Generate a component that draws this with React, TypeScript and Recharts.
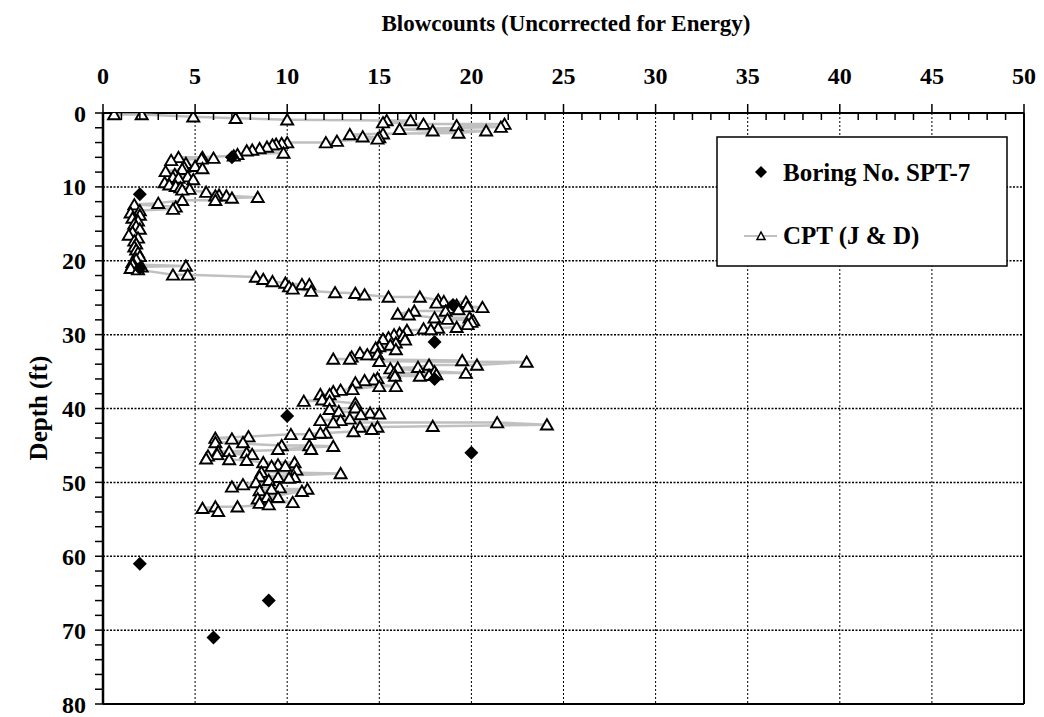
import React from "react";
import { ScatterChart, Scatter, XAxis, YAxis, ReferenceLine } from "recharts";

// axis ticks
const blowTicks = [
  0, 1, 2, 3, 4, 5, 6, 7, 8, 9, 10, 11, 12, 13, 14, 15, 16, 17, 18, 19, 20, 21, 22, 23, 24, 25,
  26, 27, 28, 29, 30, 31, 32, 33, 34, 35, 36, 37, 38, 39, 40, 41, 42, 43, 44, 45, 46, 47, 48, 49, 50,
];
const depthTicks = [
  0, 2, 4, 6, 8, 10, 12, 14, 16, 18, 20, 22, 24, 26, 28, 30, 32, 34, 36, 38, 40,
  42, 44, 46, 48, 50, 52, 54, 56, 58, 60, 62, 64, 66, 68, 70, 72, 74, 76, 78, 80,
];
const blowGrid = [5, 10, 15, 20, 25, 30, 35, 40, 45];
const depthGrid = [10, 20, 30, 40, 50, 60, 70];

// Boring No. SPT-7
const sptDepth = [6, 11, 21, 26, 31, 36, 41, 46, 61, 66, 71];
const sptBlows = [7, 2, 2, 19, 18, 18, 10, 20, 2, 9, 6];

// CPT (J & D), ordered by depth
const cptDepth = [
  0.2, 0.2, 0.5, 0.7, 0.9, 1.0, 1.0, 1.3, 1.5, 1.5, 1.7, 1.9, 2.2, 2.4, 2.4, 2.7, 2.8, 2.9, 3.2, 3.3,
  3.5, 3.8, 4.0, 4.0, 4.1, 4.2, 4.3, 4.6, 4.8, 5.0, 5.1, 5.4, 5.6, 5.8, 6.0, 6.0, 6.1, 6.2, 6.4, 6.8,
  7.2, 7.3, 7.5, 7.6, 7.9, 8.3, 8.6, 8.7, 8.8, 9.0, 9.4, 9.7, 9.9, 10.1, 10.3, 10.4, 10.7, 11.1, 11.2, 11.2,
  11.4, 11.5, 11.8, 11.8, 12.2, 12.4, 12.7, 13.0, 13.2, 13.5, 13.8, 14.2, 14.6, 15.0, 15.3, 15.7, 16.1, 16.5, 16.9, 17.3,
  17.7, 18.1, 18.5, 18.9, 19.4, 19.8, 20.2, 20.5, 20.7, 20.8, 21.0, 21.2, 21.9, 21.9, 22.2, 22.5, 22.8, 23.0, 23.2, 23.2,
  23.5, 23.8, 24.1, 24.3, 24.4, 24.6, 24.9, 24.9, 25.3, 25.5, 25.6, 25.7, 26.0, 26.2, 26.3, 26.4, 26.6, 26.8, 26.8, 27.2,
  27.3, 27.7, 27.7, 27.9, 28.1, 28.3, 28.6, 29.0, 29.1, 29.2, 29.3, 29.4, 29.8, 30.0, 30.2, 30.4, 30.6, 30.7, 31.1, 31.4,
  31.6, 31.8, 32.0, 32.5, 32.7, 32.7, 33.0, 33.3, 33.3, 33.5, 33.6, 33.7, 34.1, 34.1, 34.4, 34.5, 34.6, 35.0, 35.2, 35.2,
  35.4, 35.5, 35.6, 35.6, 35.9, 36.1, 36.2, 36.5, 37.0, 37.0, 37.4, 37.5, 37.7, 38.1, 38.1, 38.8, 39.0, 39.0, 39.3, 39.9,
  40.1, 40.4, 40.6, 40.7, 40.8, 41.4, 41.6, 41.6, 41.9, 41.9, 42.2, 42.4, 42.5, 42.5, 42.8, 43.1, 43.3, 43.3, 43.5, 43.5,
  43.8, 44.0, 44.1, 44.6, 44.6, 45.0, 45.0, 45.1, 45.5, 45.5, 45.8, 45.8, 46.0, 46.2, 46.2, 46.4, 46.8, 46.9, 47.0, 47.3,
  47.3, 47.6, 47.8, 47.8, 48.3, 48.6, 48.8, 49.2, 49.3, 49.3, 49.4, 49.7, 50.0, 50.3, 50.6, 50.7, 50.9, 50.9, 51.1, 51.2,
  52.0, 52.0, 52.2, 52.7, 52.8, 53.0, 53.3, 53.3, 53.5, 53.9,
];
const cptBlows = [
  0.6, 2.1, 4.9, 7.2, 10.0, 15.4, 16.7, 15.2, 17.4, 21.8, 19.2, 21.6, 16.1, 17.9, 20.8, 19.3, 15.2, 13.4, 14.1, 15.0,
  14.9, 12.7, 12.1, 10.0, 9.7, 9.4, 9.2, 8.9, 8.5, 8.1, 7.8, 9.8, 7.3, 7.1, 5.4, 4.1, 6.0, 5.35, 3.7, 4.5,
  5.0, 4.4, 5.4, 4.3, 3.4, 3.9, 4.6, 3.8, 4.1, 4.9, 3.35, 3.6, 3.95, 4.2, 4.7, 4.3, 5.6, 6.3, 6.1, 6.7,
  8.4, 7.0, 6.1, 4.3, 3.0, 1.7, 3.95, 3.8, 2.0, 1.5, 2.0, 1.6, 1.9, 1.7, 1.8, 2.0, 1.6, 1.4, 1.9, 1.7,
  1.8, 1.7, 1.8, 1.9, 2.0, 1.8, 1.6, 1.6, 4.5, 2.1, 1.5, 1.9, 3.8, 4.6, 8.3, 8.7, 9.2, 9.9, 10.8, 11.2,
  10.1, 10.3, 11.3, 12.6, 13.7, 14.2, 15.5, 17.2, 18.2, 18.5, 19.7, 18.1, 19.2, 19.8, 20.6, 18.9, 19.3, 18.6, 16.9, 16.0,
  16.6, 18.0, 19.9, 18.7, 20.1, 20.0, 19.8, 19.2, 18.2, 17.4, 17.8, 16.5, 16.1, 15.8, 16.3, 15.5, 15.2, 16.4, 15.9, 15.6,
  15.0, 14.8, 15.9, 13.95, 14.35, 14.9, 13.5, 13.4, 12.5, 19.5, 15.0, 23.0, 20.3, 17.7, 17.1, 16.0, 15.6, 18.0, 19.7, 15.8,
  18.1, 17.7, 17.2, 15.85, 14.9, 14.7, 14.2, 13.7, 15.9, 15.0, 13.55, 12.9, 12.5, 12.3, 11.8, 11.9, 10.9, 12.3, 13.7, 13.7,
  12.3, 12.8, 14.5, 15.0, 14.0, 13.4, 11.8, 12.9, 12.5, 21.4, 24.1, 17.9, 14.9, 13.95, 14.6, 13.6, 12.1, 11.8, 11.2, 10.2,
  7.9, 6.1, 7.0, 7.6, 6.1, 9.7, 11.2, 12.5, 9.5, 11.3, 6.85, 6.25, 7.8, 8.1, 6.2, 5.7, 5.6, 6.85, 7.8, 8.7,
  10.4, 9.5, 9.15, 9.9, 10.5, 8.6, 12.9, 8.5, 9.5, 10.4, 10.1, 9.0, 8.3, 7.6, 7.0, 9.6, 9.15, 11.1, 8.5, 10.8,
  8.9, 9.5, 8.4, 10.3, 8.5, 9.0, 7.3, 6.1, 5.4, 6.25,
];

const sptData = sptDepth.map((d, i) => ({ x: sptBlows[i], y: d }));
const cptData = cptDepth.map((d, i) => ({ x: cptBlows[i], y: d }));

const FONT = "'Liberation Serif', 'Times New Roman', serif";

function Triangle(props: any) {
  const { cx, cy } = props;
  if (cx == null || cy == null) return null;
  return (
    <polygon
      points={`${cx},${cy - 5.5} ${cx - 6},${cy + 4.8} ${cx + 6},${cy + 4.8}`}
      fill="#fff"
      stroke="#000"
      strokeWidth={1.9}
    />
  );
}

function Diamond(props: any) {
  const { cx, cy } = props;
  if (cx == null || cy == null) return null;
  return (
    <polygon
      points={`${cx},${cy - 7} ${cx + 7},${cy} ${cx},${cy + 7} ${cx - 7},${cy}`}
      fill="#000"
    />
  );
}

// top axis: labelled major ticks outside, minor ticks inside
function BlowTick(props: any) {
  const { x, y, payload } = props;
  const v = payload.value;
  if (v % 5 === 0) {
    return (
      <g>
        <line x1={x} x2={x} y1={y} y2={y - 9} stroke="#000" strokeWidth={1.5} />
        <text
          x={x}
          y={y - 29}
          textAnchor="middle"
          fill="#000"
          fontFamily={FONT}
          fontWeight="bold"
          fontSize={24}
        >
          {v}
        </text>
      </g>
    );
  }
  return <line x1={x} x2={x} y1={y} y2={y + 7} stroke="#000" strokeWidth={1.5} />;
}

export default function App() {
  return (
    <div style={{ position: "relative", width: 1036, height: 709 }}>
      <ScatterChart
        width={1036}
        height={709}
        margin={{ top: 0, right: 20, bottom: 13, left: 0 }}
      >
        <XAxis
          type="number"
          dataKey="x"
          orientation="top"
          domain={[0, 50]}
          ticks={blowTicks}
          interval={0}
          height={105}
          tickSize={0}
          tickMargin={0}
          tickLine={false}
          tick={<BlowTick />}
          axisLine={{ stroke: "#000", strokeWidth: 2 }}
          allowDataOverflow
        />
        <YAxis
          type="number"
          dataKey="y"
          domain={[0, 80]}
          reversed
          ticks={depthTicks}
          interval={0}
          width={95}
          tickSize={8}
          tickMargin={9}
          tickLine={{ stroke: "#000", strokeWidth: 1.5 }}
          axisLine={{ stroke: "#000", strokeWidth: 2.5 }}
          tickFormatter={(v: number) => (v % 10 === 0 ? String(v) : "")}
          tick={{ fill: "#000", fontFamily: FONT, fontWeight: "bold", fontSize: 24 }}
          allowDataOverflow
        />

        {blowGrid.map((v) => (
          <ReferenceLine key={"vx" + v} x={v} stroke="#000" strokeWidth={1} strokeDasharray="2 2" />
        ))}
        {depthGrid.map((v) => (
          <ReferenceLine key={"hy" + v} y={v} stroke="#000" strokeWidth={1.5} strokeDasharray="2 1.5" />
        ))}
        <ReferenceLine x={50} stroke="#000" strokeWidth={2} />
        <ReferenceLine y={80} stroke="#000" strokeWidth={2} />

        <Scatter
          name="CPT (J & D)"
          data={cptData}
          line={{ stroke: "#c0c0c0", strokeWidth: 2.5 }}
          lineType="joint"
          shape={<Triangle />}
          isAnimationActive={false}
        />
        <Scatter
          name="Boring No. SPT-7"
          data={sptData}
          shape={<Diamond />}
          isAnimationActive={false}
        />
      </ScatterChart>

      <svg
        width={1036}
        height={709}
        style={{ position: "absolute", left: 0, top: 0, pointerEvents: "none" }}
      >
        <text
          x={558}
          y={23}
          textAnchor="middle"
          fontFamily={FONT}
          fontWeight="bold"
          fontSize={23}
          fill="#000"
        >
          Blowcounts (Uncorrected for Energy)
        </text>
        <text
          transform="translate(30,400) rotate(-90)"
          textAnchor="middle"
          dominantBaseline="central"
          fontFamily={FONT}
          fontWeight="bold"
          fontSize={25}
          fill="#000"
        >
          Depth (ft)
        </text>

        {/* legend */}
        <rect x={709} y={129} width={290} height={129} fill="#fff" stroke="#000" strokeWidth={1.5} />
        <polygon points="753,158 759,164 753,170 747,164" fill="#000" />
        <text x={775} y={173} fontFamily={FONT} fontWeight="bold" fontSize={25} fill="#000">
          Boring No. SPT-7
        </text>
        <line x1={736} x2={769} y1={228} y2={228} stroke="#c0c0c0" strokeWidth={2} />
        <polygon points="753,224 749,231.5 757,231.5" fill="#fff" stroke="#000" strokeWidth={1.5} />
        <text x={775} y={236} fontFamily={FONT} fontWeight="bold" fontSize={25} fill="#000">
          CPT (J &amp; D)
        </text>
      </svg>
    </div>
  );
}
